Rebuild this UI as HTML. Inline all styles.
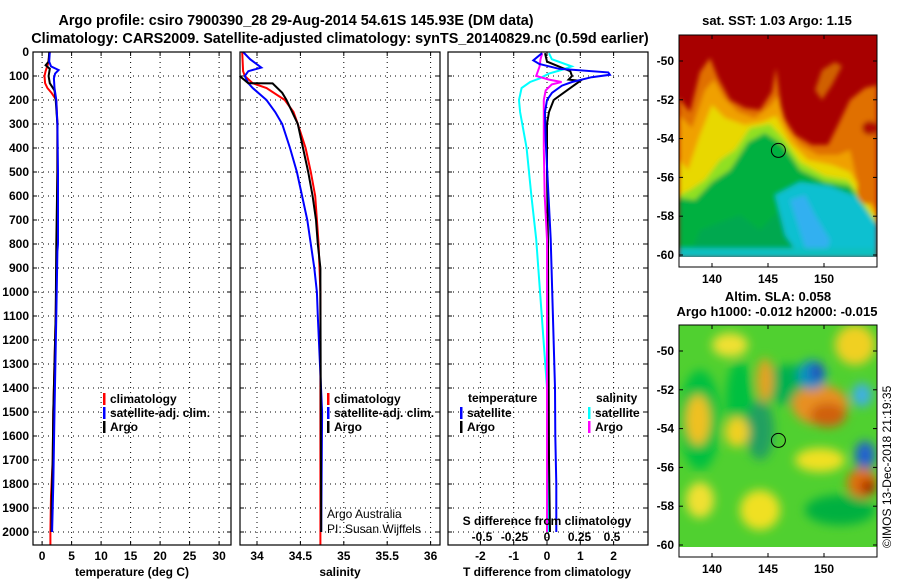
<!DOCTYPE html>
<html><head><meta charset="utf-8"><style>
html,body{margin:0;padding:0;background:#fff;}
svg{display:block;font-family:"Liberation Sans",sans-serif;}
.b{font-weight:bold;font-size:12px;}
.m{font-weight:bold;font-size:13px;}
.t{font-weight:bold;font-size:14.4px;}
</style></head><body>
<svg id="c" width="900" height="580" viewBox="0 0 900 580">
<defs>
<clipPath id="cm1"><rect x="679" y="35" width="198" height="222"/></clipPath>
<clipPath id="cm2"><rect x="679" y="325" width="198" height="222"/></clipPath>
<filter id="bl" x="-20%" y="-20%" width="140%" height="140%"><feGaussianBlur stdDeviation="2.5"/></filter>
<filter id="bl2" x="-50%" y="-50%" width="200%" height="200%"><feGaussianBlur stdDeviation="5"/></filter>
</defs>
<text class="t" x="296" y="25" text-anchor="middle">Argo profile: csiro 7900390_28 29-Aug-2014 54.61S 145.93E (DM data)</text>
<text class="t" x="340" y="43" text-anchor="middle">Climatology: CARS2009. Satellite-adjusted climatology: synTS_20140829.nc (0.59d earlier)</text>

<!-- SST map -->
<g>
<g clip-path="url(#cm1)">
<rect x="679" y="35" width="198" height="222" fill="#a80000"/>
<g filter="url(#bl)">
<polygon fill="#e07000" points="679,98 690,112 700,72 710,58 718,78 730,100 745,108 760,110 772,92 776,68 782,115 795,135 812,145 828,145 838,125 850,100 865,88 877,85 877,257 679,257"/>
<polygon fill="#d06000" points="815,90 822,70 835,62 842,66 832,85 822,100"/>
<polygon fill="#f0a000" points="679,115 692,128 705,90 714,80 724,98 738,112 755,118 770,106 778,96 787,128 800,145 818,155 838,155 850,150 858,185 877,210 877,257 679,257"/>
<polygon fill="#e8d800" points="679,160 688,170 700,135 712,105 725,118 745,125 762,122 776,116 790,142 808,160 832,165 850,172 877,218 877,257 679,257"/>
<polygon fill="#90e020" points="679,195 690,190 705,180 720,160 735,150 750,128 770,124 785,140 800,162 825,176 848,180 860,196 877,222 877,257 679,257"/>
<polygon fill="#00b040" points="679,198 695,200 712,182 730,170 748,142 765,133 783,145 800,170 825,182 850,186 877,226 877,257 679,257"/>
<polygon fill="#00a850" points="690,257 700,230 740,215 760,230 790,200 877,225 877,257"/>
<polygon fill="#10c0d0" points="775,195 800,182 830,186 855,196 877,225 877,257 800,257 785,235"/>
<polygon fill="#30b0f0" points="790,200 805,195 815,215 830,240 825,257 808,257"/>
<rect x="679" y="248" width="198" height="10" fill="#10c0c0"/>
<ellipse cx="867" cy="190" rx="10" ry="14" fill="#e07000"/>
<ellipse cx="870" cy="128" rx="8" ry="7" fill="#b01000"/>
</g>
</g>
<rect x="679" y="257" width="198" height="10" fill="#fff"/>
<rect x="679" y="35" width="198" height="232" fill="none" stroke="#000" stroke-width="1"/>
<circle cx="778.4" cy="150.4" r="7" fill="none" stroke="#000" stroke-width="1"/>
</g>
<text class="m" x="777" y="25" text-anchor="middle">sat. SST: 1.03 Argo: 1.15</text>

<!-- SLA map -->
<g>
<g clip-path="url(#cm2)">
<rect x="679" y="325" width="198" height="222" fill="#50d030"/>
<g filter="url(#bl2)">
<ellipse cx="700" cy="420" rx="20" ry="50" fill="#00c040"/>
<ellipse cx="740" cy="400" rx="14" ry="40" fill="#00c040"/>
<ellipse cx="760" cy="430" rx="14" ry="30" fill="#20a060"/>
<ellipse cx="790" cy="385" rx="30" ry="20" fill="#00b050"/>
<ellipse cx="698" cy="420" rx="12" ry="25" fill="#f0c020"/>
<ellipse cx="737" cy="432" rx="12" ry="15" fill="#f0d020"/>
<ellipse cx="765" cy="380" rx="8" ry="22" fill="#e8a020"/>
<ellipse cx="820" cy="460" rx="25" ry="12" fill="#f0e020"/>
<ellipse cx="820" cy="405" rx="28" ry="20" fill="#e89020"/>
<ellipse cx="828" cy="415" rx="18" ry="12" fill="#d06010"/>
<ellipse cx="812" cy="375" rx="14" ry="15" fill="#1090c0"/>
<ellipse cx="817" cy="372" rx="6" ry="9" fill="#2040c0"/>
<ellipse cx="862" cy="395" rx="10" ry="12" fill="#40b0e0"/>
<ellipse cx="865" cy="455" rx="10" ry="14" fill="#2060d0"/>
<ellipse cx="862" cy="483" rx="15" ry="15" fill="#e07010"/>
<ellipse cx="868" cy="487" rx="7" ry="7" fill="#a01000"/>
<ellipse cx="855" cy="345" rx="20" ry="20" fill="#f0d020"/>
<ellipse cx="840" cy="510" rx="35" ry="15" fill="#00b040"/>
<ellipse cx="760" cy="510" rx="20" ry="20" fill="#f0e020"/>
<ellipse cx="700" cy="500" rx="14" ry="18" fill="#f0e030"/>
<ellipse cx="730" cy="345" rx="18" ry="12" fill="#f0e030"/>
</g>
</g>
<rect x="679" y="547" width="198" height="10" fill="#fff"/>
<rect x="679" y="325" width="198" height="232" fill="none" stroke="#000" stroke-width="1"/>
<circle cx="778.4" cy="440.4" r="7" fill="none" stroke="#000" stroke-width="1"/>
</g>
<text class="m" x="778" y="301" text-anchor="middle">Altim. SLA: 0.058</text>
<text class="m" x="777" y="316" text-anchor="middle">Argo h1000: -0.012 h2000: -0.015</text>
<text x="891" y="548" font-size="12" transform="rotate(-90 891 548)">©IMOS 13-Dec-2018 21:19:35</text>

<g id="plots"></g>
</svg>
<script>
// ---- data ----
const depthTicks=[0,100,200,300,400,500,600,700,800,900,1000,1100,1200,1300,1400,1500,1600,1700,1800,1900,2000];
const tempTicks=[0,5,10,15,20,25,30];
const salTicks=[34,34.5,35,35.5,36];
const salTickLabels=["34","34.5","35","35.5","36"];
const tdiffTicks=[-2,-1,0,1,2];
const sdiffTicks=[-0.5,-0.25,0,0.25,0.5];
const sdiffTickLabels=["-0.5","-0.25","0","0.25","0.5"];

const tClimDepth=[0,50,80,100,130,150,170,200,300,500,800,1100,1500,1700,1850,2000,2055];
const tClim=[1.3,1.0,0.6,0.4,0.5,0.9,1.6,2.4,2.6,2.6,2.5,2.3,1.9,1.8,1.5,1.4,1.4];
const tSatDepth=[0,40,60,75,90,110,150,200,300,500,800,830,1100,1500,1650,1800,2000];
const tSat=[1.3,1.2,1.5,2.8,2.2,2.0,2.1,2.4,2.6,2.7,2.7,2.6,2.4,2.1,2.0,1.9,1.7];
const tArgoDepth=[0,40,55,70,100,130,160,200,300,500,800,1100,1500,1700,1900,2000];
const tArgo=[1.2,1.1,0.6,1.3,1.1,1.3,2.1,2.3,2.6,2.6,2.4,2.3,1.9,1.8,1.6,1.6];

const sClimDepth=[0,80,100,130,150,200,250,300,400,500,600,700,800,1000,1500,2055];
const sClim=[33.83,33.84,33.86,33.95,34.11,34.32,34.42,34.47,34.56,34.62,34.67,34.69,34.71,34.73,34.73,34.73];
const sSatDepth=[0,30,65,80,100,130,150,200,250,300,400,500,600,700,800,900,1000,1100,1500,2000];
const sSat=[33.84,33.92,34.05,33.9,33.86,33.9,33.95,34.11,34.21,34.29,34.38,34.46,34.52,34.58,34.62,34.66,34.69,34.70,34.75,34.74];
const sArgoDepth=[100,130,131,170,200,300,400,500,600,700,800,900,1000,2000];
const sArgo=[33.8,33.9,34.18,34.29,34.34,34.47,34.53,34.59,34.64,34.68,34.70,34.73,34.73,34.74];

const dTSatDepth=[5,35,50,70,85,95,105,125,140,170,200,250,370,780,1400,1600,1800,2000];
const dTSat=[-0.15,-0.41,-0.23,0.36,1.84,1.89,1.34,0.75,0.45,0.15,0,-0.06,-0.04,0.11,0.24,0.25,0.28,0.28];
const dTArgoDepth=[5,40,80,100,115,120,170,200,250,300,500,800,1700,2000];
const dTArgo=[-0.06,0,0.7,0.75,0.65,1.0,0.5,0.2,0.06,0,0,0.03,0.06,0.09];
const dSSatDepth=[5,30,60,75,90,110,125,150,200,250,400,600,780,1400,2000];
const dSSat=[0.015,0.037,0.19,0.11,0.015,-0.057,-0.13,-0.195,-0.215,-0.207,-0.157,-0.12,-0.083,0,0.012];
const dSArgoDepth=[5,30,60,80,100,115,125,135,160,200,400,600,780,1500,2000];
const dSArgo=[-0.037,-0.05,-0.057,-0.07,-0.083,0.015,0.112,0.037,-0.01,-0.025,-0.025,-0.018,0,0,0];

const mapLonTicks=[140,145,150];
const mapLatTicks=[-50,-52,-54,-56,-58,-60];

// ---- axes ----
const NS="http://www.w3.org/2000/svg";
const root=document.getElementById('plots');
const Y0=52,Y1=545;
const yD=d=>Y0+d*0.24;
const xT=t=>42.1+t*5.9;
const xS=s=>257+(s-34)*86.8;
const xDT=t=>547+t*33.3;
const xDS=s=>547+s*130;
const mx=l=>712+(l-140)*11.2;
const my1=a=>61+(-50-a)*19.4;
const my2=a=>351+(-50-a)*19.4;

function mk(tag,attrs,parent){const e=document.createElementNS(NS,tag);for(const k in attrs)e.setAttribute(k,attrs[k]);(parent||root).appendChild(e);return e;}
function txt(s,x,y,anchor,cls,parent){const e=mk('text',{x:x,y:y,'text-anchor':anchor,'class':cls},parent);e.textContent=s;return e;}

const panels=[
 {x0:33,x1:231,name:'temperature-panel'},
 {x0:240,x1:440,name:'salinity-panel'},
 {x0:448,x1:648,name:'difference-panel'}];
panels.forEach((p,i)=>{
 const g=mk('g',{});
 
 
 p.g=g;
 depthTicks.forEach(d=>{
  const y=yD(d);
  const l=mk('line',{x1:p.x0,x2:p.x1,y1:y,y2:y,stroke:'#000','stroke-width':1,'stroke-dasharray':'1,4'},g);
  
  
  mk('line',{x1:p.x0,x2:p.x0+4,y1:y,y2:y,stroke:'#000'},g);
  mk('line',{x1:p.x1-4,x2:p.x1,y1:y,y2:y,stroke:'#000'},g);
 });
});
depthTicks.forEach(d=>{
 const t=txt(String(d),29,yD(d)+4,'end','b');
 
 
});
function vgrid(p,x){const l=mk('line',{x1:x,x2:x,y1:Y0,y2:Y1,stroke:'#000','stroke-width':1,'stroke-dasharray':'1,4'},p.g);
 
 
 mk('line',{x1:x,x2:x,y1:Y1-4,y2:Y1,stroke:'#000'},p.g);mk('line',{x1:x,x2:x,y1:Y0,y2:Y0+4,stroke:'#000'},p.g);}
tempTicks.forEach(t=>{vgrid(panels[0],xT(t));const e=txt(String(t),xT(t),560,'middle','b');
 
 });
salTicks.forEach((s,i)=>{vgrid(panels[1],xS(s));const e=txt(salTickLabels[i],xS(s),560,'middle','b');
 
 });
tdiffTicks.forEach(t=>{vgrid(panels[2],xDT(t));const e=txt(String(t),xDT(t),560,'middle','b');
 
 });
sdiffTicks.forEach((s,i)=>{const e=txt(sdiffTickLabels[i],xDS(s),541,'middle','b');
 
 });

function series(p,depths,vals,fx,color,name,w){
 const pts=depths.map((d,i)=>fx(vals[i]).toFixed(1)+','+yD(d).toFixed(1)).join(' ');
 const l=mk('polyline',{points:pts,fill:'none',stroke:color,'stroke-width':w||2},p.g);
 
 
}
series(panels[0],tClimDepth,tClim,xT,'#f00','temp-climatology-line');
series(panels[0],tArgoDepth,tArgo,xT,'#000','temp-argo-line');
series(panels[0],tSatDepth,tSat,xT,'#00f','temp-satellite-line');
series(panels[1],sClimDepth,sClim,xS,'#f00','sal-climatology-line');
series(panels[1],sSatDepth,sSat,xS,'#00f','sal-satellite-line');
series(panels[1],sArgoDepth,sArgo,xS,'#000','sal-argo-line');
series(panels[2],dSSatDepth,dSSat,xDS,'#0ff','s-diff-satellite-line');
series(panels[2],dTArgoDepth,dTArgo,xDT,'#000','t-diff-argo-line');
series(panels[2],dSArgoDepth,dSArgo,xDS,'#f0f','s-diff-argo-line');
series(panels[2],dTSatDepth,dTSat,xDT,'#00f','t-diff-satellite-line');

panels.forEach(p=>{const r=mk('rect',{x:p.x0,y:Y0,width:p.x1-p.x0,height:Y1-Y0,fill:'none',stroke:'#000','stroke-width':1.2},p.g);
 
 });

function leg(x,y,color,label,name){
 const g=mk('g',{});
 
 
 mk('rect',{x:x,y:y-10,width:2.5,height:12,fill:color},g);
 txt(label,x+7,y,'start','b',g);
}
leg(103,403,'#f00','climatology','legend-temp-climatology');
leg(103,417,'#00f','satellite-adj. clim.','legend-temp-satellite');
leg(103,431,'#000','Argo','legend-temp-argo');
leg(327,403,'#f00','climatology','legend-sal-climatology');
leg(327,417,'#00f','satellite-adj. clim.','legend-sal-satellite');
leg(327,431,'#000','Argo','legend-sal-argo');
leg(460,417,'#00f','satellite','legend-tdiff-satellite');
leg(460,431,'#000','Argo','legend-tdiff-argo');
leg(588,417,'#0ff','satellite','legend-sdiff-satellite');
leg(588,431,'#f0f','Argo','legend-sdiff-argo');
let e;
e=txt('temperature',468,402,'start','b');
e=txt('salinity',596,402,'start','b');
e=txt('S difference from climatology',547,525,'middle','b');
e=txt('temperature (deg C)',132,576,'middle','b');
e=txt('salinity',340,576,'middle','b');
e=txt('T difference from climatology',547,576,'middle','b');
e=mk('text',{x:327,y:518,'font-size':12});e.textContent='Argo Australia';
e=mk('text',{x:327,y:533,'font-size':12});e.textContent='PI: Susan Wijffels';

// map axes
[[my1,267,35,283],[my2,557,325,573]].forEach(([fy,yb,yt,ly])=>{
 mapLonTicks.forEach(l=>{
  mk('line',{x1:mx(l),x2:mx(l),y1:yt,y2:yt+4,stroke:'#000'});
  mk('line',{x1:mx(l),x2:mx(l),y1:yb-4,y2:yb,stroke:'#000'});
  const t=txt(String(l),mx(l),ly,'middle','b');
  
  
 });
 mapLatTicks.forEach(a=>{
  mk('line',{x1:679,x2:683,y1:fy(a),y2:fy(a),stroke:'#000'});
  mk('line',{x1:873,x2:877,y1:fy(a),y2:fy(a),stroke:'#000'});
  const t=txt(String(a),674,fy(a)+4,'end','b');
  
  
 });
});
</script>
</body></html>
